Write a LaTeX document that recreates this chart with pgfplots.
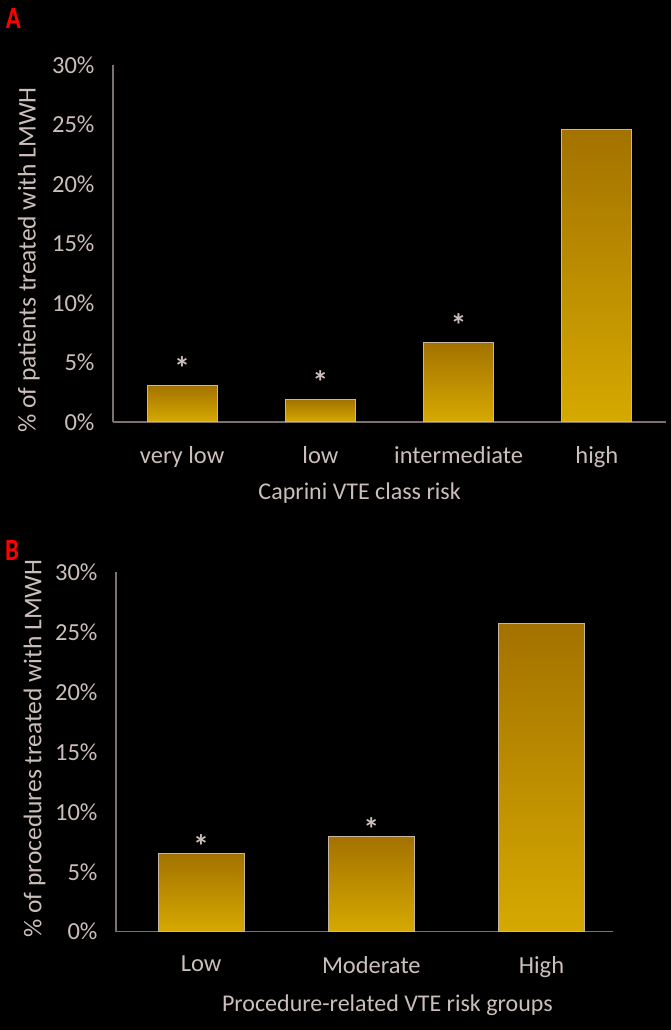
\documentclass[border=0pt]{standalone}
\usepackage{fontspec}
\setmainfont{Carlito}
\usepackage{pgfplots}
\pgfplotsset{compat=1.18}
\definecolor{txt}{RGB}{204,191,187}
\definecolor{axl}{RGB}{125,112,110}
\definecolor{bartop}{RGB}{163,114,0}
\definecolor{barbot}{RGB}{214,169,0}
\definecolor{barline}{RGB}{200,182,160}
\pgfplotsset{
 mystyle/.style={
  scale only axis,
  anchor=south west,
  axis x line=bottom, axis y line=left,
  axis line style={-, draw=axl, line width=1.3bp},
  ymin=0, ymax=30, ytick={0,5,...,30},
  yticklabels={0\%,5\%,10\%,15\%,20\%,25\%,30\%},
  major tick length=0pt,
  tick label style={font=\fontsize{24.5bp}{29bp}\selectfont, text=txt},
  yticklabel style={xshift=-15bp},
  xticklabel style={yshift=-21bp},
  xlabel style={font=\fontsize{24bp}{29bp}\selectfont, text=txt},
  ylabel style={font=\fontsize{25.5bp}{29bp}\selectfont, text=txt},
  ybar, bar shift=0pt,
 },
 barsty/.style={draw=barline, line width=1bp, top color=bartop, bottom color=barbot},
 star/.style={barsty, nodes near coords={*},
   every node near coord/.append style={font=\bfseries\fontsize{32bp}{36bp}\selectfont, text=txt, inner sep=0pt, yshift=#1}},
}
\begin{document}
\begin{tikzpicture}
\path[use as bounding box, fill=black] (0,0) rectangle (671bp,1030bp);
\node[text=red, font=\bfseries\fontsize{31bp}{34bp}\selectfont, xscale=0.8, inner sep=0pt] at (13.5bp,1012bp) {A};
\node[text=red, font=\bfseries\fontsize{31bp}{34bp}\selectfont, xscale=0.8, inner sep=0pt] at (12bp,479.5bp) {B};
\begin{axis}[mystyle, at={(113bp,608bp)}, width=553bp, height=357bp,
  xmin=-0.5, xmax=3.5, bar width=70bp,
  xtick={0,1,2,3},
  xticklabels={very low, low, intermediate, high},
  ylabel={\% of patients treated with LMWH},
  xlabel={Caprini VTE class risk},
  ylabel style={at={(axis description cs:-0.152,0.454)}, anchor=center},
  xlabel style={at={(axis description cs:0.446,-0.2185)}, anchor=base}]
\addplot[star=5bp] coordinates {(0,3.1)};
\addplot[star=5bp] coordinates {(1,1.9)};
\addplot[star=5bp] coordinates {(2,6.7)};
\addplot[barsty] coordinates {(3,24.6)};
\end{axis}
\begin{axis}[mystyle, at={(116bp,98.3bp)}, width=497bp, height=359.7bp,
  xmin=-0.5, xmax=2.42, bar width=86bp,
  xtick={0,1,2},
  xticklabels={Low, Moderate, High},
  ylabel={\% of procedures treated with LMWH},
  xlabel={Procedure-related VTE risk groups},
  ylabel style={at={(axis description cs:-0.164,0.509)}, anchor=center},
  xlabel style={at={(axis description cs:0.546,-0.223)}, anchor=base}]
\addplot[star=-4bp] coordinates {(0,6.5)};
\addplot[star=-4bp] coordinates {(1,7.9)};
\addplot[barsty] coordinates {(2,25.7)};
\end{axis}
\end{tikzpicture}
\end{document}
